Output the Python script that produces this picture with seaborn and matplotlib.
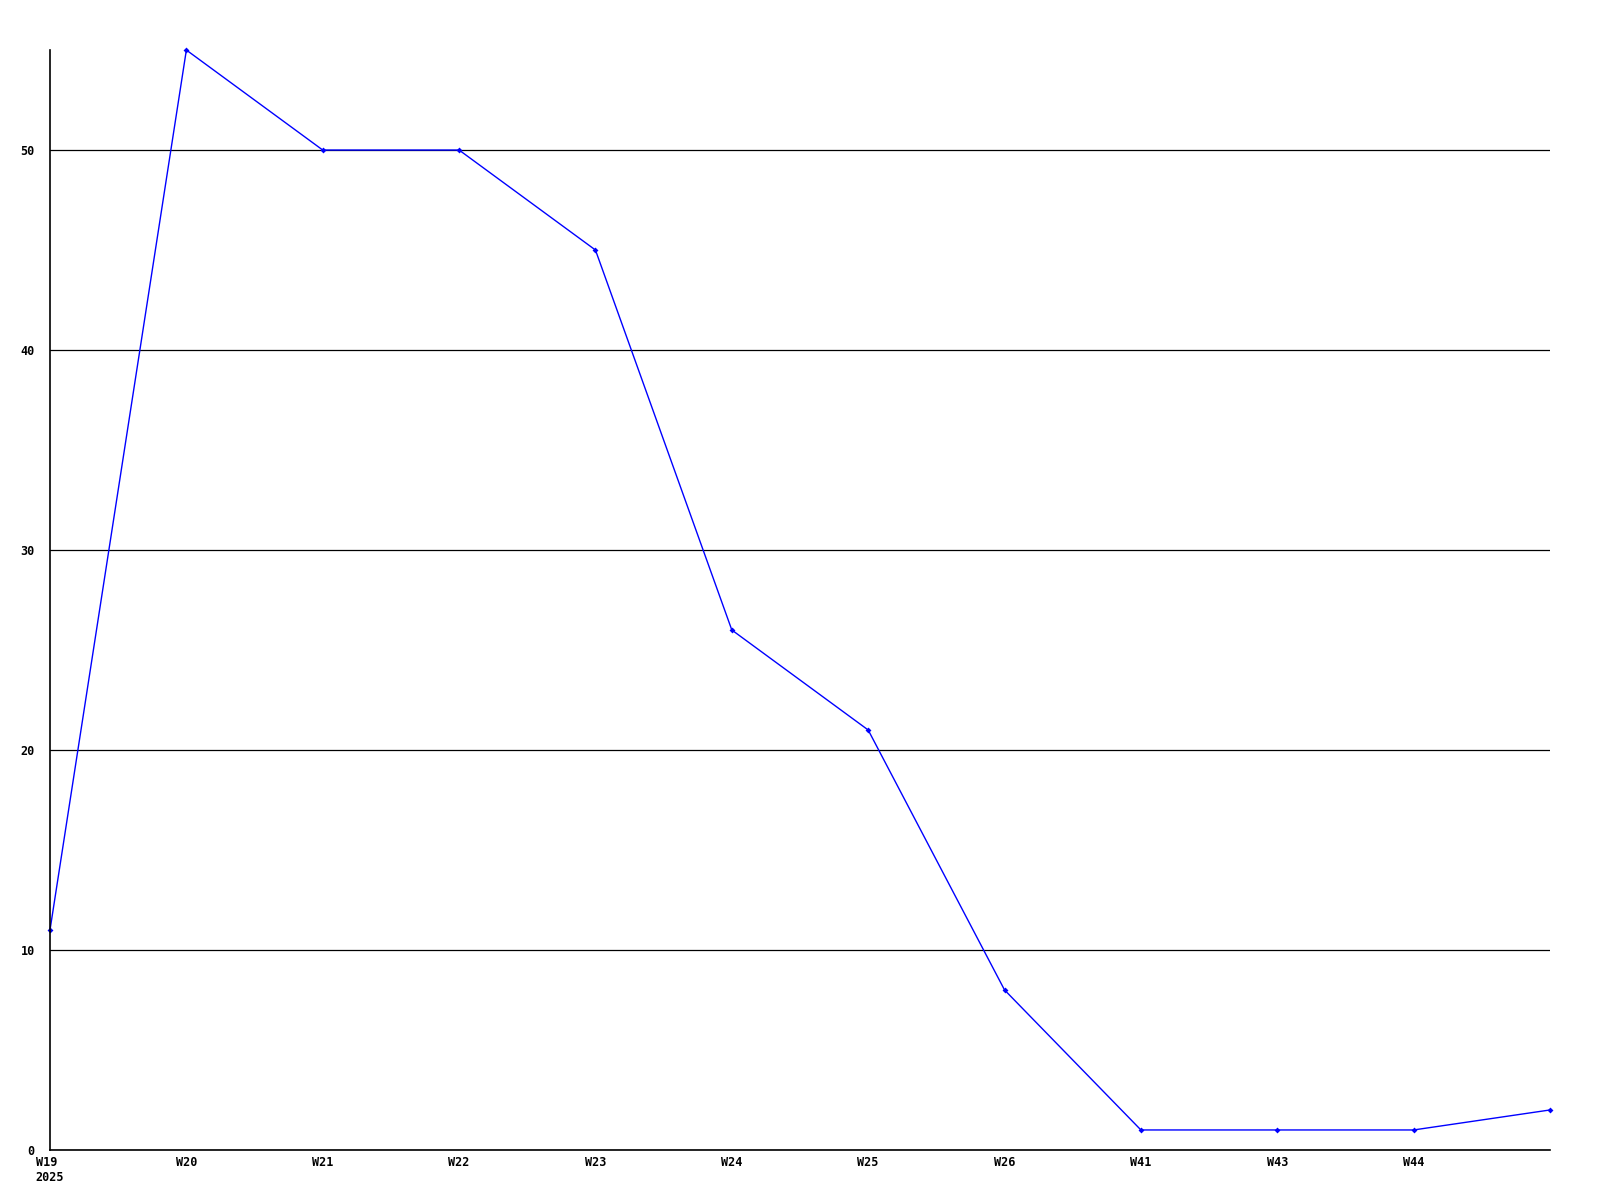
import matplotlib
matplotlib.use("Agg")
import matplotlib.pyplot as plt
import seaborn as sns
import pandas as pd

weeks = ["W19\n2025", "W20", "W21", "W22", "W23", "W24", "W25", "W26", "W41", "W43", "W44", ""]
values = [11, 55, 50, 50, 45, 26, 21, 8, 1, 1, 1, 2]
yticks = [0, 10, 20, 30, 40, 50]

df = pd.DataFrame({"idx": range(len(values)), "value": values})

sns.set_style("white")
plt.rcParams["font.family"] = ["DejaVu Sans Mono", "DejaVu Sans"]
plt.rcParams["text.color"] = "black"
plt.rcParams["xtick.color"] = "black"
plt.rcParams["ytick.color"] = "black"

fig = plt.figure(figsize=(16, 12), dpi=100)
ax = fig.add_axes([0.03125, 0.0417, 0.9375, 0.9166])

sns.lineplot(data=df, x="idx", y="value", ax=ax, color="#0000ff", linewidth=1.0,
             marker="D", markersize=3, markeredgewidth=0, clip_on=False)

ax.set_xlim(0, len(values) - 1)
ax.set_ylim(0, 55)
ax.set_yticks(yticks)
ax.set_yticklabels([str(v) for v in yticks], fontsize=8.5, fontweight="bold")
labeled = [i for i, w in enumerate(weeks) if w]
ax.set_xticks(labeled)
ax.set_xticklabels([weeks[i] for i in labeled], fontsize=8.5, fontweight="bold",
                   ha="center", va="top", linespacing=1.2)
for lbl in ax.get_xticklabels():
    lbl.set_multialignment("left")

ax.grid(axis="y", color="black", linewidth=0.9)
ax.grid(axis="x", visible=False)
ax.set_axisbelow(True)
for s in ["top", "right"]:
    ax.spines[s].set_visible(False)
for s in ["left", "bottom"]:
    ax.spines[s].set_color("black")
    ax.spines[s].set_linewidth(1.2)
ax.tick_params(axis="y", length=0, pad=11, labelcolor="black")
ax.tick_params(axis="x", length=0, pad=4, labelcolor="black")
ax.set_xlabel("")
ax.set_ylabel("")

fig.savefig("out.png", dpi=100, facecolor="white")
